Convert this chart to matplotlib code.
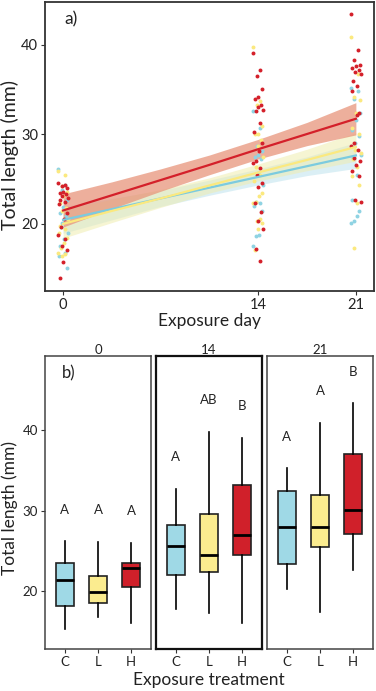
import matplotlib
matplotlib.use("Agg")
import matplotlib.pyplot as plt
import numpy as np

plt.rcParams['font.family'] = ['Lato', 'DejaVu Sans']

# ---------------- data ----------------
days = [0, 14, 21]
groups = ["C", "L", "H"]
group_colors = {"C": "#8fd3e3", "L": "#fbe97f", "H": "#d4202a"}
box_colors = {"C": "#9fd9e6", "L": "#fbec8f", "H": "#d0202a"}
ribbon_colors = {"C": "#bfe3ee", "L": "#efedb0", "H": "#e8957b"}

# scatter points (total length, mm) per group and day
pts_C_0 = [26.1, 24.4, 23.8, 22.7, 21.9, 21.2, 20.9, 20.1, 19.0, 17.5, 16.8, 16.4, 15.1, 18.3, 19.7]
pts_L_0 = [25.9, 25.5, 24.2, 23.6, 23.1, 22.3, 21.8, 21.4, 20.5, 19.8, 19.4, 19.0, 18.4, 17.9, 17.3, 16.8, 16.6, 16.4]
pts_H_0 = [24.6, 24.4, 24.2, 24.0, 23.6, 23.5, 23.3, 23.1, 22.9, 22.7, 22.4, 22.2, 21.2, 20.6, 19.7, 18.8, 18.3, 17.5, 17.1, 15.7, 14.0]
pts_C_14 = [32.6, 30.7, 28.7, 28.1, 27.7, 27.5, 27.2, 25.7, 24.4, 22.5, 22.3, 22.0, 21.4, 18.8, 18.6, 17.5]
pts_L_14 = [39.8, 33.7, 33.3, 30.9, 30.1, 30.0, 29.4, 28.7, 27.5, 26.4, 25.5, 24.8, 23.5, 23.1, 22.5, 22.3, 20.5, 20.3, 20.1, 19.4, 17.1]
pts_H_14 = [39.1, 37.2, 36.5, 35.1, 34.2, 34.0, 33.3, 33.1, 32.7, 32.6, 31.3, 30.3, 29.0, 28.1, 27.0, 26.8, 26.2, 25.5, 24.6, 24.1, 22.3, 21.3, 20.3, 19.4, 17.2, 15.8]
pts_C_21 = [35.2, 34.9, 34.0, 32.4, 31.6, 30.5, 29.8, 29.0, 27.7, 27.4, 25.5, 22.7, 21.4, 20.9, 20.3, 20.1]
pts_L_21 = [40.9, 36.7, 34.2, 33.9, 32.4, 30.7, 30.1, 28.3, 27.9, 27.2, 26.4, 25.3, 24.4, 22.3, 17.3]
pts_H_21 = [43.5, 39.4, 38.3, 37.8, 37.6, 37.4, 37.2, 37.0, 36.7, 36.0, 35.4, 34.9, 32.4, 32.2, 29.0, 28.7, 28.3, 27.4, 27.0, 26.6, 25.9, 25.3, 22.7, 22.5]

points = {
    ("C", 0): pts_C_0, ("L", 0): pts_L_0, ("H", 0): pts_H_0,
    ("C", 14): pts_C_14, ("L", 14): pts_L_14, ("H", 14): pts_H_14,
    ("C", 21): pts_C_21, ("L", 21): pts_L_21, ("H", 21): pts_H_21,
}

# fitted lines and confidence ribbons read at these days
fit_x = [0, 3.5, 7, 10.5, 14, 17.5, 21]
fit_C = [20.45, 21.65, 22.85, 24.05, 25.25, 26.45, 27.65]
fit_C_lo = [18.95, 20.45, 21.95, 23.2, 24.35, 25.4, 26.2]
fit_C_hi = [21.95, 22.85, 23.75, 24.9, 26.15, 27.5, 29.1]
fit_L = [20.0, 21.45, 22.85, 24.3, 25.75, 27.15, 28.6]
fit_L_lo = [18.4, 20.15, 21.85, 23.45, 24.8, 25.95, 27.0]
fit_L_hi = [21.6, 22.75, 23.85, 25.15, 26.7, 28.35, 30.2]
fit_H = [21.5, 23.2, 24.9, 26.6, 28.35, 30.05, 31.75]
fit_H_lo = [19.65, 21.7, 23.65, 25.5, 27.25, 28.75, 29.95]
fit_H_hi = [23.35, 24.7, 26.15, 27.7, 29.45, 31.35, 33.55]
fits = {"C": (fit_C, fit_C_lo, fit_C_hi), "L": (fit_L, fit_L_lo, fit_L_hi), "H": (fit_H, fit_H_lo, fit_H_hi)}

# box statistics per day: (whislo, q1, med, q3, whishi) for C, L, H
box_0 = {"C": [15.2, 18.1, 21.3, 23.5, 26.25], "L": [16.7, 18.4, 19.85, 21.8, 26.1], "H": [15.9, 20.4, 22.8, 23.45, 26.0]}
box_14 = {"C": [17.7, 21.9, 25.6, 28.2, 32.7], "L": [17.2, 22.3, 24.5, 29.6, 39.75], "H": [15.9, 24.4, 26.9, 33.2, 39.05]}
box_21 = {"C": [20.2, 23.3, 27.95, 32.4, 35.25], "L": [17.3, 25.4, 27.95, 31.9, 40.9], "H": [22.6, 27.1, 30.1, 37.05, 43.4]}
boxes = {0: box_0, 14: box_14, 21: box_21}

# significance letters: (label, y)
letters_0 = [("A", 30.1), ("A", 30.1), ("A", 29.9)]
letters_14 = [("A", 36.7), ("AB", 43.8), ("B", 43.1)]
letters_21 = [("A", 39.2), ("A", 44.9), ("B", 47.3)]
letters = {0: letters_0, 14: letters_14, 21: letters_21}

# ---------------- figure ----------------
W, H = 376, 691
fig = plt.figure(figsize=(W / 100, H / 100), dpi=100)

def frac(l, t, r, b):
    return [l / W, 1 - b / H, (r - l) / W, (b - t) / H]

frame_col = "#333333"
txt_col = "#222222"

# --- panel a ---
ax = fig.add_axes(frac(45, 2, 374, 291))
jit = [-0.35, 0.15, -0.1, 0.3, 0.0, -0.25, 0.2, -0.05, 0.35, -0.2, 0.1, -0.3, 0.25, 0.05, -0.15]
for g, order in zip(["C", "L", "H"], [1, 2, 3]):
    y, lo, hi = fits[g]
    ax.fill_between(fit_x, lo, hi, color=ribbon_colors[g], alpha=0.55 if g != "H" else 0.75,
                    lw=0, zorder=order)
for g in ["C", "L", "H"]:
    for d in days:
        vals = points[(g, d)]
        xs = [d + jit[i % len(jit)] for i in range(len(vals))]
        ax.scatter(xs, vals, s=8, color=group_colors[g], lw=0, zorder=5)
for g in ["C", "L", "H"]:
    y, lo, hi = fits[g]
    ax.plot(fit_x, y, color=group_colors[g] if g != "C" else "#7ccbdf", lw=1.6, zorder=6)

ax.set_xlim(-1.3, 22.3)
ax.set_ylim(12.5, 44.8)
ax.set_xticks(days)
ax.set_yticks([20, 30, 40])
ax.tick_params(labelsize=10.5, length=3, width=0.8, color="#333333", labelcolor=txt_col, pad=2)
for sp in ax.spines.values():
    sp.set_color(frame_col)
    sp.set_linewidth(1.3)
ax.set_xlabel("Exposure day", fontsize=12.5, labelpad=1, color=txt_col)
fig.text(10 / W, 1 - 155 / H, "Total length (mm)", rotation=90, ha="center", va="center",
         fontsize=14, color=txt_col)
ax.text(0.06, 0.94, "a)", transform=ax.transAxes, fontsize=12.5, va="center", ha="left", color=txt_col)

# --- panel b ---
panel_x = [(45, 151), (156, 262), (267, 373)]
axes_b = []
for i, d in enumerate(days):
    l, r = panel_x[i]
    axb = fig.add_axes(frac(l, 356, r, 649))
    axes_b.append(axb)
    stats = []
    for g in groups:
        wl, q1, med, q3, wh = boxes[d][g]
        stats.append(dict(whislo=wl, q1=q1, med=med, q3=q3, whishi=wh, fliers=[]))
    bp = axb.bxp(stats, positions=[1, 2, 3], widths=0.53, showcaps=False, patch_artist=True,
                 boxprops=dict(lw=1.2, edgecolor="#222222"),
                 medianprops=dict(color="black", lw=2.0),
                 whiskerprops=dict(color="black", lw=1.2))
    for patch, g in zip(bp["boxes"], groups):
        patch.set_facecolor(box_colors[g])
    for j, (lab, yv) in enumerate(letters[d]):
        axb.text(j + 1, yv, lab, ha="center", va="center", fontsize=9.5, color=txt_col)
    axb.set_xlim(0.4, 3.6)
    axb.set_ylim(12.7, 49.3)
    axb.set_xticks([1, 2, 3])
    axb.set_xticklabels(groups)
    axb.set_yticks([20, 30, 40])
    axb.tick_params(labelsize=9.5, length=3, width=0.8, color="#333333", labelcolor=txt_col, pad=2)
    if i > 0:
        axb.tick_params(axis="y", left=False, labelleft=False)
    lw = 1.6 if i == 1 else 1.1
    col = "#111111" if i == 1 else "#444444"
    for sp in axb.spines.values():
        sp.set_color(col)
        sp.set_linewidth(lw)
    axb.set_title(str(d), fontsize=9.5, pad=1, color=txt_col)

fig.text(10 / W, 1 - 508 / H, "Total length (mm)", rotation=90, ha="center", va="center",
         fontsize=12.5, color=txt_col)
axes_b[0].text(0.16, 0.94, "b)", transform=axes_b[0].transAxes, fontsize=12, va="center", ha="left", color=txt_col)
fig.text(209 / W, 1 - 680 / H, "Exposure treatment", ha="center", va="center", fontsize=12.5, color=txt_col)

fig.savefig("out.png", dpi=100)
